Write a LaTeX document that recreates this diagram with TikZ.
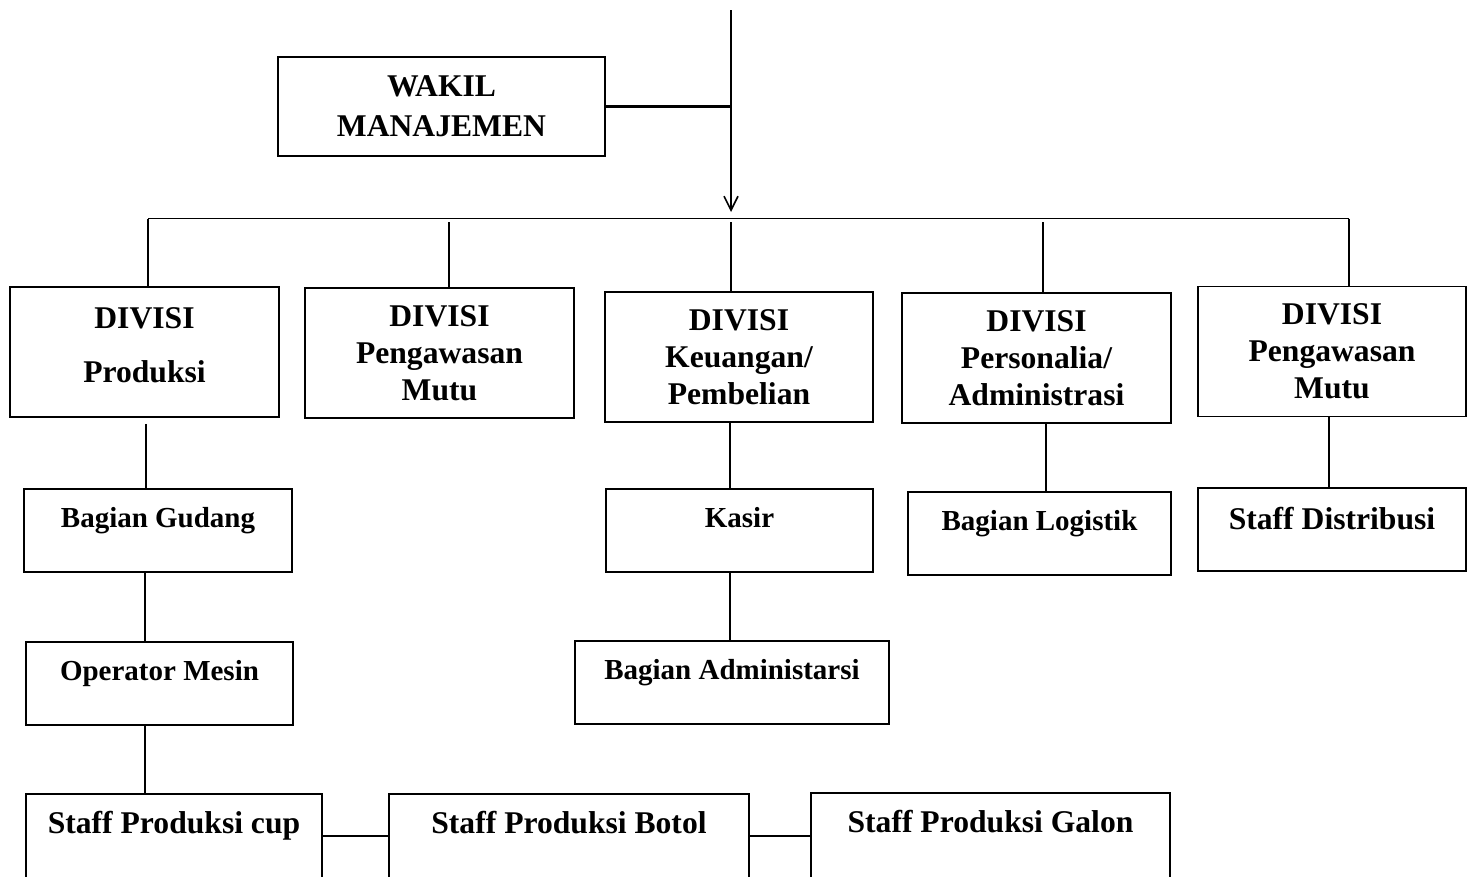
\documentclass[tikz,border=0pt]{standalone}
\usepackage{fontspec}
\setmainfont{Liberation Serif}
\usepackage{tikz}
\usetikzlibrary{arrows.meta}
\tikzset{
  divbox/.style={draw,align=center,minimum width=5.37cm,minimum height=2.6cm,
    font=\fontsize{18}{21}\selectfont\bfseries},
  subbox/.style={draw,anchor=north,inner sep=0pt,text height=0.78cm,text depth=0.88cm,
    font=\fontsize{16.5}{19}\selectfont\bfseries},
  staffbox/.style={draw,anchor=north,inner sep=0pt,text height=0.8cm,text depth=0.9cm,
    font=\fontsize{18}{21}\selectfont\bfseries},
  link/.style={line width=1.2pt}
}
\begin{document}
\begin{tikzpicture}[x=0.02cm,y=-0.02cm,line width=0.9pt,>={Straight Barb[length=2.8mm,width=2.8mm]}]
\useasboundingbox (0,0) rectangle (1477,876);
\clip (0,0) rectangle (1477,876);
% top
\node[draw,align=center,minimum width=6.54cm,minimum height=1.98cm,
  font=\fontsize{18}{23}\selectfont\bfseries] (wakil) at (441.5,106.5) {WAKIL\\MANAJEMEN};
\coordinate (top) at (731,10);
% divisions
\node[divbox] (d1) at (144.5,352) {DIVISI\\[10pt]Produksi\\[-13pt]\mbox{}};
\node[divbox] (d2) at (439.5,353) {DIVISI\\Pengawasan\\Mutu};
\node[divbox] (d3) at (739,357) {DIVISI\\Keuangan/\\Pembelian};
\node[divbox] (d4) at (1036.5,358) {DIVISI\\Personalia/\\Administrasi};
\node[divbox] (d5) at (1332,351.5) {DIVISI\\Pengawasan\\Mutu};
% bar
\coordinate (b1) at (148,218.5);
\coordinate (b2) at (449,218.5);
\coordinate (b3) at (731,218.5);
\coordinate (b4) at (1043,218.5);
\coordinate (b5) at (1349,218.5);
\draw[->,shorten >=0.13cm] (top) -- (b3);
\draw[link] (wakil.east) -- (wakil.east -| top);
\draw (b1) -- (b5);
\draw (b1) -- (b1 |- d1.north);
\draw (b5) -- (b5 |- d5.north);
\foreach \i in {2,3,4} \draw[shorten <=0.07cm] (b\i) -- (b\i |- d\i.north);
% sections
\node[subbox,minimum width=5.36cm] (gudang) at (158,488) {Bagian Gudang};
\node[subbox,minimum width=5.34cm] (operator) at (159.5,641) {Operator Mesin};
\node[subbox,minimum width=5.34cm] (kasir) at (739.5,488) {Kasir};
\node[subbox,minimum width=6.28cm] (admin) at (732,640) {Bagian Administarsi};
\node[subbox,minimum width=5.26cm] (logistik) at (1039.5,491) {Bagian Logistik};
\node[subbox,minimum width=5.36cm,text height=0.84cm,text depth=0.82cm,
  font=\fontsize{18}{21}\selectfont\bfseries] (distribusi) at (1332,487) {Staff Distribusi};
% staff row, cut by the page edge
\node[staffbox,minimum width=5.92cm] (cup) at (174,793) {Staff Produksi cup};
\node[staffbox,minimum width=7.2cm] (botol) at (569,793) {Staff Produksi Botol};
\node[staffbox,minimum width=7.18cm] (galon) at (990.5,792) {Staff Produksi Galon};
% links
\draw[shorten <=0.12cm] (d1.south -| 146,0) -- (gudang.north -| 146,0);
\draw (gudang.south -| 145,0) -- (operator.north -| 145,0);
\draw (operator.south -| 145,0) -- (cup.north -| 145,0);
\draw (d3.south -| 730,0) -- (kasir.north -| 730,0);
\draw (kasir.south -| 730,0) -- (admin.north -| 730,0);
\draw (d4.south -| 1046,0) -- (logistik.north -| 1046,0);
\draw (d5.south -| 1329,0) -- (distribusi.north -| 1329,0);
\draw[link] (cup.east) -- (botol.west);
\draw[link] (botol.east) -- (botol.east -| galon.west);
\end{tikzpicture}
\end{document}
